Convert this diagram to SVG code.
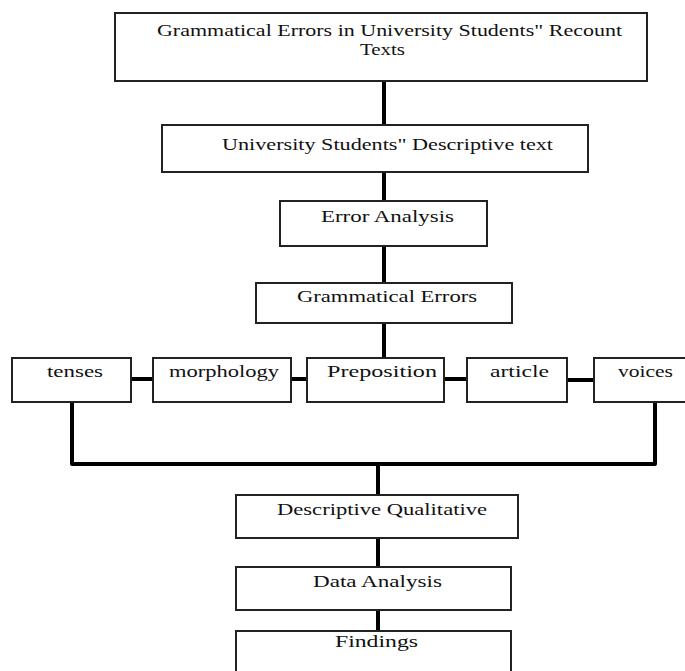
<svg xmlns="http://www.w3.org/2000/svg" width="685" height="671" viewBox="0 0 685 671">
<style>
.box{fill:#fff;stroke:#222;stroke-width:2}
.t{font-family:"Liberation Serif","Times New Roman",serif;font-size:17px;fill:#111}
.c{fill:none;stroke:#000;stroke-width:4;stroke-linejoin:round}
</style>
<rect width="685" height="671" fill="#fff"/>
<g id="connectors">
<path class="c" d="M384,81V125M384,172V201M384,246V283M384,323V358"/>
<path class="c" d="M131,379H153M291,379H307M444,379H467M567,380H594"/>
<path class="c" d="M72,402V464H655V402M378,464V495"/>
<path class="c" d="M378,538V567M378,610V631"/>
</g>
<g id="n1"><rect class="box" x="115" y="13" width="532" height="68"/>
<text class="t" x="157" y="36" textLength="465" lengthAdjust="spacingAndGlyphs">Grammatical Errors in University Students" Recount</text>
<text class="t" x="360" y="55" font-size="16" textLength="45" lengthAdjust="spacingAndGlyphs">Texts</text></g>
<g id="n2"><rect class="box" x="162" y="125" width="426" height="47"/>
<text class="t" x="222" y="150" textLength="331" lengthAdjust="spacingAndGlyphs">University Students" Descriptive text</text></g>
<g id="n3"><rect class="box" x="280" y="201" width="207" height="45"/>
<text class="t" x="321" y="222" textLength="133" lengthAdjust="spacingAndGlyphs">Error Analysis</text></g>
<g id="n4"><rect class="box" x="256" y="283" width="256" height="40"/>
<text class="t" x="297" y="302" textLength="180" lengthAdjust="spacingAndGlyphs">Grammatical Errors</text></g>
<g id="n5"><rect class="box" x="12" y="358" width="119" height="44"/>
<text class="t" x="47" y="377" textLength="56" lengthAdjust="spacingAndGlyphs">tenses</text></g>
<g id="n6"><rect class="box" x="153" y="358" width="138" height="44"/>
<text class="t" x="169" y="377" textLength="110" lengthAdjust="spacingAndGlyphs">morphology</text></g>
<g id="n7"><rect class="box" x="307" y="358" width="137" height="44"/>
<text class="t" x="327" y="377" textLength="110" lengthAdjust="spacingAndGlyphs">Preposition</text></g>
<g id="n8"><rect class="box" x="467" y="358" width="100" height="44"/>
<text class="t" x="490" y="377" textLength="59" lengthAdjust="spacingAndGlyphs">article</text></g>
<g id="n9"><rect class="box" x="594" y="358" width="100" height="44"/>
<text class="t" x="618" y="377" textLength="55" lengthAdjust="spacingAndGlyphs">voices</text></g>
<g id="n10"><rect class="box" x="236" y="495" width="282" height="43"/>
<text class="t" x="277" y="515" textLength="210" lengthAdjust="spacingAndGlyphs">Descriptive Qualitative</text></g>
<g id="n11"><rect class="box" x="236" y="567" width="275" height="43"/>
<text class="t" x="313" y="587" textLength="129" lengthAdjust="spacingAndGlyphs">Data Analysis</text></g>
<g id="n12"><rect class="box" x="236" y="631" width="275" height="50"/>
<text class="t" x="335" y="647" textLength="83" lengthAdjust="spacingAndGlyphs">Findings</text></g>
</svg>
